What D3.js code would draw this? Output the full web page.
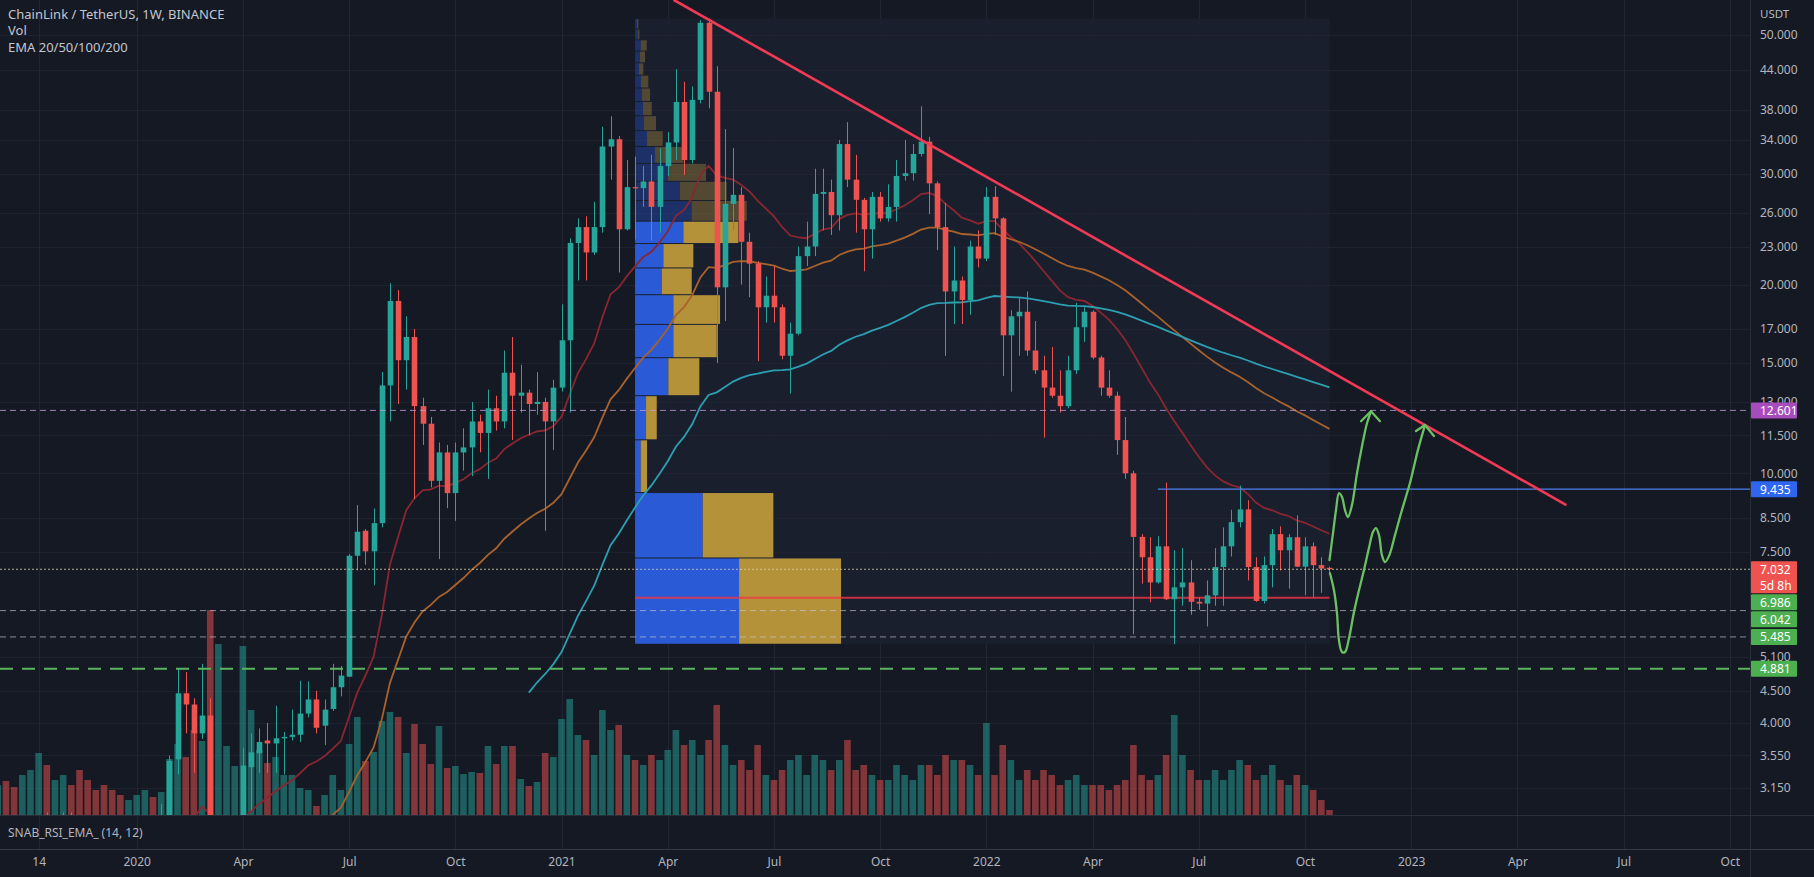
<!DOCTYPE html>
<html><head><meta charset="utf-8">
<script src="https://cdn.jsdelivr.net/npm/d3@7/dist/d3.min.js"></script>
<style>
html,body{margin:0;padding:0;background:#151924;overflow:hidden}
svg{display:block}
text{font-family:"Noto Sans","DejaVu Sans",sans-serif}
</style></head><body>
<svg id="c" width="1814" height="877"></svg>
<script>
// ---------------- DATA ----------------
const firstBar = "2019-09-09";           // Monday of the first weekly bar (oldest first)
const openP = [
 1.80,1.80,1.78,1.62,1.88,2.50,2.75,2.70,2.72,2.80,
 2.60,2.30,2.20,2.10,2.05,1.92,1.80,1.80,2.25,2.40,
 2.38,2.75,3.50,4.46,4.28,3.85,4.11,2.10,2.25,2.35,
 2.70,3.40,3.58,3.75,3.71,3.78,3.80,3.83,4.14,4.36,
 3.96,4.21,4.56,4.74,7.39,8.10,7.51,8.33,13.81,18.83,
 15.15,16.50,12.80,12.00,9.73,10.80,9.30,10.80,11.00,12.10,
 11.60,12.70,12.10,14.47,13.30,13.45,12.90,13.00,12.10,13.70,
 16.30,23.30,24.70,22.50,24.70,33.20,34.10,24.50,28.60,28.50,
 29.20,26.60,30.90,33.70,39.10,31.60,39.40,52.30,40.60,19.80,
 26.90,27.80,23.40,21.60,18.40,19.20,18.40,15.40,16.70,22.20,
 23.00,27.90,28.10,25.80,33.50,29.40,27.30,24.50,27.60,25.50,
 26.60,29.80,30.10,32.30,33.80,29.00,24.70,19.50,20.30,18.90,
 23.00,22.00,27.60,25.50,16.60,17.80,18.10,15.70,14.60,13.70,
 13.30,12.80,14.60,17.10,18.10,15.30,13.70,13.30,11.30,10.00,
 7.92,7.35,6.70,7.65,6.30,6.58,6.70,6.24,6.20,6.39,
 7.09,7.65,8.36,8.76,7.09,6.26,7.14,8.00,7.54,7.91,
 7.10,7.65,7.14,7.07];
const highP = [
 1.95,1.90,1.82,1.95,2.70,2.85,2.88,2.85,2.88,2.88,
 2.70,2.45,2.30,2.20,2.10,2.00,1.90,2.40,2.60,2.55,
 2.97,3.55,4.88,4.82,4.38,4.97,4.38,2.60,2.55,2.80,
 3.65,3.85,3.92,4.00,4.26,3.87,4.20,4.67,4.66,4.50,
 4.36,4.97,4.93,7.44,8.90,8.15,8.79,14.51,20.10,19.60,
 17.80,17.00,13.20,12.30,11.20,11.10,11.20,11.80,13.00,12.40,
 13.60,13.30,15.70,16.50,14.90,13.60,14.50,13.20,14.10,18.60,
 23.70,25.50,25.70,27.10,35.70,37.10,34.50,31.60,32.00,30.90,
 32.20,33.00,35.00,44.10,42.10,41.40,52.80,53.10,44.60,35.40,
 33.00,28.60,24.20,21.80,20.60,21.40,18.60,17.40,23.00,25.20,
 30.60,30.60,29.40,34.00,36.30,32.20,27.50,28.10,28.10,28.90,
 31.60,34.00,33.50,38.50,34.40,29.20,27.00,23.00,20.60,23.50,
 24.40,28.60,28.70,25.60,18.20,19.10,19.50,17.50,15.40,15.90,
 14.60,15.40,18.70,18.40,18.20,15.40,14.60,13.50,12.30,10.10,
 8.00,7.91,7.94,9.67,7.54,7.60,7.27,6.35,6.75,7.60,
 8.20,8.75,9.56,9.06,7.35,7.37,8.15,8.23,8.00,8.57,
 7.91,7.76,7.35,7.10];
const lowP = [
 1.70,1.70,1.55,1.55,1.85,2.40,2.50,2.55,2.55,2.50,
 2.10,2.05,1.95,2.00,1.75,1.75,1.72,1.78,2.20,2.20,
 2.35,2.65,3.31,3.85,3.33,3.77,1.60,1.80,2.00,2.25,
 2.65,2.90,3.33,3.33,3.33,3.31,3.75,3.73,4.08,3.85,
 3.69,4.18,4.41,4.74,7.00,7.15,6.63,8.20,12.10,12.90,
 13.60,9.10,11.10,9.50,7.30,8.80,8.40,10.10,9.90,10.80,
 9.80,11.70,11.80,11.30,12.50,11.50,12.40,8.10,10.90,13.50,
 12.50,20.30,20.30,22.30,24.20,29.40,20.90,24.40,23.60,26.60,
 23.50,24.20,29.80,31.60,29.90,31.20,38.90,38.20,15.00,17.50,
 24.40,20.00,19.10,15.10,17.40,17.40,15.20,13.40,16.60,21.40,
 22.20,24.40,24.00,24.40,28.60,24.20,21.00,22.00,25.20,25.20,
 25.20,29.30,29.30,32.00,25.90,22.70,15.40,17.30,17.30,17.90,
 21.30,21.80,24.00,14.30,13.50,15.40,15.40,14.40,11.40,13.20,
 12.50,12.70,14.40,16.20,15.20,13.30,13.20,10.70,9.80,5.54,
 6.67,6.23,6.67,6.28,5.34,6.15,5.95,6.06,5.70,6.15,
 6.15,7.37,8.20,6.75,6.24,6.20,6.58,7.00,6.55,7.09,
 6.39,6.34,6.45,6.90];
const closeP = [
 1.80,1.78,1.62,1.88,2.50,2.75,2.70,2.72,2.80,2.60,
 2.30,2.20,2.10,2.05,1.92,1.80,1.80,2.25,2.40,2.38,
 2.75,3.48,4.46,4.28,3.85,4.11,2.10,2.25,2.35,2.70,
 3.42,3.59,3.73,3.71,3.78,3.80,3.83,4.14,4.36,3.93,
 4.20,4.56,4.76,7.39,8.07,7.51,8.33,13.81,18.83,15.15,
 16.50,12.80,12.00,9.73,10.80,9.30,10.80,11.00,12.10,11.60,
 12.70,12.10,14.47,13.30,13.45,12.90,13.00,12.10,13.70,16.30,
 23.30,24.70,22.50,24.70,33.20,34.10,24.50,28.60,28.50,29.20,
 26.60,30.90,33.70,39.10,31.60,39.40,52.30,40.60,19.80,26.90,
 27.80,23.40,21.60,18.40,19.20,18.40,15.40,16.70,22.20,23.00,
 27.90,28.10,25.80,33.50,29.40,27.30,24.50,27.60,25.50,26.60,
 29.80,30.10,32.30,33.80,29.00,24.70,19.50,20.30,18.90,23.00,
 22.00,27.60,25.50,16.60,17.80,18.10,15.70,14.60,13.70,13.30,
 12.80,14.60,17.10,18.10,15.30,13.70,13.30,11.30,10.00,7.92,
 7.35,6.70,7.65,6.30,6.58,6.70,6.24,6.20,6.39,7.09,
 7.65,8.36,8.76,7.09,6.26,7.14,8.00,7.54,7.91,7.10,
 7.65,7.14,7.05,7.032];
const volume = [
 30,34,28,40,45,62,50,35,40,30,
 45,35,25,30,25,20,15,20,25,18,
 23,56,71,58,85,74,205,171,69,49,
 169,105,65,52,58,40,40,27,25,9,
 20,40,25,71,98,54,63,94,103,98,
 62,91,71,51,89,47,49,41,43,42,
 69,51,69,69,36,29,33,62,58,96,
 116,80,75,60,105,85,90,60,55,50,
 60,55,65,85,70,75,60,75,110,70,
 50,55,45,70,40,35,45,55,60,40,
 60,55,45,55,75,45,50,40,35,35,
 50,40,35,50,50,40,60,55,55,50,
 40,92,40,70,55,35,45,35,45,40,
 30,35,40,30,30,30,25,30,35,70,
 40,35,40,60,100,60,45,35,35,45,
 35,45,55,50,35,40,50,35,30,40,
 30,25,15,5];
// weekly closes before the first drawn bar (Jan 14 2019 ... Sep 2 2019), used only for the EMAs
const historyClose = [0.47,0.42,0.40,0.42,0.47,0.44,0.44,0.46,0.45,0.45,0.46,0.55,0.50,0.49,0.46,0.50,0.65,0.95,1.10,1.05,1.10,1.40,1.75,3.30,3.10,3.10,2.90,2.85,2.70,2.65,2.20,2.15,1.85,1.80];
const emaLengths = [20, 50, 100];
const emaColors  = ["#8a2630", "#a8622c", "#2c9fb2"];

// fixed range volume profile (rows bottom -> top)
const profileStart = "2021-03-08";
const profileLow = 5.34, profileRowSize = 1.99;
const profileUp   = [104,67.7,5.7,11,33.3,38.3,38.3,26.7,28.3,48.3,56.7,45,33,20,12,9,8,7,6,4,5,5.7,3,2];
const profileDown = [102,70.6,6.3,10.7,31,43.4,46.7,30,30,55,55,46.7,38,28.3,15.7,12,8.7,8,7.3,4.3,5,6,1.3,1.3];
const valueAreaTopRow = 9;

// axes
const priceTicks = [50,44,38,34,30,26,23,20,17,15,13,11.5,10,8.5,7.5,5.1,4.5,4.0,3.55,3.15];
const timeTickDates  = ["2019-10-14","2020-01-06","2020-04-06","2020-07-06","2020-10-05","2021-01-04","2021-04-05","2021-07-05","2021-10-04","2022-01-03","2022-04-04","2022-07-04","2022-10-03","2023-01-02","2023-04-03","2023-07-03","2023-10-02"];
const timeTickLabels = ["14","2020","Apr","Jul","Oct","2021","Apr","Jul","Oct","2022","Apr","Jul","Oct","2023","Apr","Jul","Oct"];

// horizontal levels
const levelRes   = 12.601, levelBlue = 9.435, blueStart = "2022-05-30";
const levelsGrey = [6.042, 5.485];
const levelGreen = 4.881;
const extraLabel = 6.986;
const countdown  = "5d 8h";
// trend line
const trendPts = [["2021-04-10", 56.9], ["2023-05-15", 8.9]];
// hand drawn arrows: [weeks after last bar, price]
const arrowA = [[0,7.27],[0.43,8.03],[0.8,8.74],[1.16,9.3],[1.53,9.17],[1.9,8.74],[2.26,8.52],[2.75,8.9],[3.37,10.01],[3.98,11.05],[4.59,12.02],[5.08,12.56]];
const arrowAHead = [[3.86,12.11],[5.08,12.56],[6.18,12.11]];
const arrowB = [[0.06,6.93],[0.55,6.51],[0.92,5.98],[1.16,5.42],[1.53,5.19],[1.9,5.19],[2.39,5.46],[3.0,6.01],[3.61,6.51],[4.22,7.01],[4.83,7.6],[5.32,8.06],[5.69,8.18],[6.06,7.97],[6.43,7.4],[6.79,7.22],[7.28,7.38],[8.02,7.97],[8.87,8.74],[9.85,9.65],[10.83,10.9],[11.69,11.94]];
const arrowBHead = [[10.59,11.68],[11.69,11.94],[12.79,11.47]];

// ---------------- CHART ----------------
const W = 1814, H = 877, paneR = 1750, paneB = 815;
const WEEK = 7 * 864e5;
const t0 = Date.parse(firstBar + "T00:00:00Z");
const dates = closeP.map((_, i) => new Date(t0 + i * WEEK));
const lastDate = dates[dates.length - 1];
const parse = s => new Date(Date.parse(s + "T00:00:00Z"));
const fut = w => new Date(+lastDate + w * WEEK);

const x = d3.scaleTime().domain([parse("2019-09-09"), parse("2023-10-02")]).range([-2.2, 1729.8]);
const y = d3.scaleLog().domain([50, 3.15]).range([35, 788]);
const vy = d3.scaleLinear().domain([0, d3.max(volume)]).range([paneB, 610]);
const pw = d3.scaleLinear().domain([0, d3.max(profileUp.map((u, i) => u + profileDown[i]))]).range([0, 206]);

const svg = d3.select("#c");
svg.append("rect").attr("width", W).attr("height", H).attr("fill", "#151924");
svg.append("defs").append("clipPath").attr("id", "pane")
  .append("rect").attr("x", 0).attr("y", 0).attr("width", paneR).attr("height", paneB);
// vertical grid (behind everything)
svg.append("g").selectAll("line").data(timeTickDates).join("line")
  .attr("x1", d => Math.round(x(parse(d))) + 0.5).attr("x2", d => Math.round(x(parse(d))) + 0.5)
  .attr("y1", 0).attr("y2", 849).attr("stroke", "#222633").attr("stroke-width", 1);
const g = svg.append("g").attr("clip-path", "url(#pane)");

// profile background
const pX0 = x(parse(profileStart)), pX1 = x(lastDate);
const pTop = profileLow + profileRowSize * profileUp.length;
g.append("rect").attr("x", pX0).attr("y", y(pTop)).attr("width", pX1 - pX0)
  .attr("height", y(profileLow) - y(pTop)).attr("fill", "#1b2030").attr("opacity", 0.9);

// horizontal grid
g.append("g").selectAll("line").data(priceTicks).join("line")
  .attr("x1", 0).attr("x2", paneR).attr("y1", d => Math.round(y(d)) + 0.5).attr("y2", d => Math.round(y(d)) + 0.5)
  .attr("stroke", "#222633").attr("stroke-width", 1).attr("opacity", 0.8);

// volume
g.append("g").selectAll("rect").data(volume).join("rect")
  .attr("x", (d, i) => x(dates[i]) - 3.3).attr("width", 6.6)
  .attr("y", d => vy(d)).attr("height", d => paneB - vy(d))
  .attr("fill", (d, i) => closeP[i] >= openP[i] ? "#26a69a" : "#ef5350").attr("opacity", 0.5);

// volume profile rows
profileUp.forEach((u, k) => {
  const lo = profileLow + k * profileRowSize, hi = lo + profileRowSize;
  const yt = y(hi) + 0.5, hh = Math.max(0.5, y(lo) - y(hi) - 1);
  const bright = k <= valueAreaTopRow;
  g.append("rect").attr("x", pX0).attr("y", yt).attr("width", pw(u)).attr("height", hh)
    .attr("fill", bright ? "#2a5ad6" : "#2962ff").attr("opacity", bright ? 1 : 0.28);
  g.append("rect").attr("x", pX0 + pw(u)).attr("y", yt).attr("width", pw(profileDown[k])).attr("height", hh)
    .attr("fill", bright ? "#b4923a" : "#c9a23e").attr("opacity", bright ? 1 : 0.33);
});
// POC line
const pocRow = d3.maxIndex(profileUp.map((u, i) => u + profileDown[i]));
const pocPrice = profileLow + (pocRow + 0.5) * profileRowSize;
g.append("line").attr("x1", pX0).attr("x2", pX1).attr("y1", y(pocPrice)).attr("y2", y(pocPrice))
  .attr("stroke", "#f23645").attr("stroke-width", 2).attr("opacity", 0.8);

// EMAs
const allClose = historyClose.concat(closeP);
const allDates = historyClose.map((_, i) => new Date(t0 - (historyClose.length - i) * WEEK)).concat(dates);
emaLengths.forEach((n, li) => {
  const a = 2 / (n + 1); let e = d3.mean(allClose.slice(0, n)); const pts = [];
  for (let i = n - 1; i < allClose.length; i++) {
    if (i >= n) e = a * allClose[i] + (1 - a) * e;
    pts.push([allDates[i], e]);
  }
  g.append("path").datum(pts).attr("fill", "none").attr("stroke", emaColors[li]).attr("stroke-width", 1.8)
    .attr("d", d3.line().x(d => x(d[0])).y(d => y(d[1])));
});

// candles
const cg = g.append("g");
closeP.forEach((c, i) => {
  const o = openP[i], up = c >= o, col = up ? "#26a69a" : "#ef5350", cx = Math.round(x(dates[i])) + 0.5;
  cg.append("line").attr("x1", cx).attr("x2", cx).attr("y1", y(highP[i])).attr("y2", y(lowP[i])).attr("stroke", col).attr("stroke-width", 1);
  const yt = y(Math.max(o, c)), yb = y(Math.min(o, c));
  cg.append("rect").attr("x", cx - 2.8).attr("width", 5.6).attr("y", yt).attr("height", Math.max(1.2, yb - yt)).attr("fill", col);
});

// horizontal levels
const hline = (p, x0, col, dash, w) => g.append("line").attr("x1", x0).attr("x2", paneR)
  .attr("y1", y(p)).attr("y2", y(p)).attr("stroke", col).attr("stroke-width", w || 1).attr("stroke-dasharray", dash);
hline(levelRes, 0, "#c29ad6", "6,4", 1).attr("opacity", 0.8);
hline(levelBlue, x(parse(blueStart)), "#4f7ff0", null, 1.2);
hline(closeP[closeP.length - 1], 0, "#d9d2a8", "2,2", 1).attr("opacity", 0.8);
levelsGrey.forEach(p => hline(p, 0, "#c8cbd2", "6,4", 1).attr("opacity", 0.65));
hline(levelGreen, 0, "#5bb55f", "13,9", 2);

// trend line
g.append("line").attr("x1", x(parse(trendPts[0][0]))).attr("y1", y(trendPts[0][1]))
  .attr("x2", x(parse(trendPts[1][0]))).attr("y2", y(trendPts[1][1]))
  .attr("stroke", "#f23a55").attr("stroke-width", 2.6);

// arrows
const aLine = d3.line().x(d => x(fut(d[0]))).y(d => y(d[1])).curve(d3.curveCatmullRom.alpha(0.5));
const hLine = d3.line().x(d => x(fut(d[0]))).y(d => y(d[1]));
[[arrowA, arrowAHead], [arrowB, arrowBHead]].forEach(([p, h]) => {
  g.append("path").datum(p).attr("d", aLine).attr("fill", "none").attr("stroke", "#6cc063").attr("stroke-width", 2.3).attr("stroke-linecap", "round");
  g.append("path").datum(h).attr("d", hLine).attr("fill", "none").attr("stroke", "#6cc063").attr("stroke-width", 2.3).attr("stroke-linecap", "round").attr("stroke-linejoin", "round");
});

// pane separators
svg.append("line").attr("x1", 0).attr("x2", W).attr("y1", 815.5).attr("y2", 815.5).attr("stroke", "#2a2e39");
svg.append("line").attr("x1", 0).attr("x2", W).attr("y1", 849.5).attr("y2", 849.5).attr("stroke", "#363a45");
svg.append("line").attr("x1", paneR + 0.5).attr("x2", paneR + 0.5).attr("y1", 0).attr("y2", H).attr("stroke", "#2a2e39");

// price axis
const pa = svg.append("g").attr("transform", `translate(${paneR},0)`)
  .call(d3.axisRight(y).tickValues(priceTicks).tickFormat(d3.format(".3f")).tickSize(0).tickPadding(10));
pa.select(".domain").remove();
pa.selectAll("text").attr("fill", "#b2b5be").style("font-size", "12px").style("font-family", "Noto Sans, sans-serif");
svg.append("text").attr("x", 1760).attr("y", 18).text("USDT").attr("fill", "#b2b5be").style("font-size", "11.5px");

// time axis
const ta = svg.append("g").attr("transform", "translate(0,850)")
  .call(d3.axisBottom(x).tickValues(timeTickDates.map(parse)).tickFormat((d, i) => timeTickLabels[i]).tickSize(0).tickPadding(7));
ta.select(".domain").remove();
ta.selectAll("text").attr("fill", "#b2b5be").style("font-size", "12px").style("font-family", "Noto Sans, sans-serif");

// price labels on the axis (stacked to avoid overlap)
const labels = [
  {p: levelRes, c: "#a74cbc", t: [d3.format(".3f")(levelRes)]},
  {p: levelBlue, c: "#2f66f0", t: [d3.format(".3f")(levelBlue)]},
  {p: closeP[closeP.length - 1], c: "#ef5350", t: [d3.format(".3f")(closeP[closeP.length - 1]), countdown]},
  {p: extraLabel, c: "#4caf50", t: [d3.format(".3f")(extraLabel)]},
  {p: levelsGrey[0], c: "#4caf50", t: [d3.format(".3f")(levelsGrey[0])]},
  {p: levelsGrey[1], c: "#4caf50", t: [d3.format(".3f")(levelsGrey[1])]},
  {p: levelGreen, c: "#4caf50", t: [d3.format(".3f")(levelGreen)]}
];
let prevBottom = -1e9;
labels.forEach(L => {
  const h = 16 * L.t.length;
  const top = Math.max(y(L.p) - 8, prevBottom + 1);
  prevBottom = top + h;
  svg.append("rect").attr("x", paneR + 1).attr("y", top).attr("width", 46).attr("height", h).attr("fill", L.c).attr("rx", 1);
  L.t.forEach((s, j) => svg.append("text").attr("x", 1760).attr("y", top + 12.5 + j * 16).text(s)
    .attr("fill", "#ffffff").style("font-size", "12px"));
});

// legends
[["ChainLink / TetherUS, 1W, BINANCE", 18.5], ["Vol", 35], ["EMA 20/50/100/200", 51.5]].forEach(([s, yy]) =>
  svg.append("text").attr("x", 8).attr("y", yy).text(s).attr("fill", "#c3c6ce").style("font-size", "13px"));
svg.append("text").attr("x", 8).attr("y", 836.5).text("SNAB_RSI_EMA_ (14, 12)").attr("fill", "#b2b5be").style("font-size", "12px");
</script>
</body></html>
